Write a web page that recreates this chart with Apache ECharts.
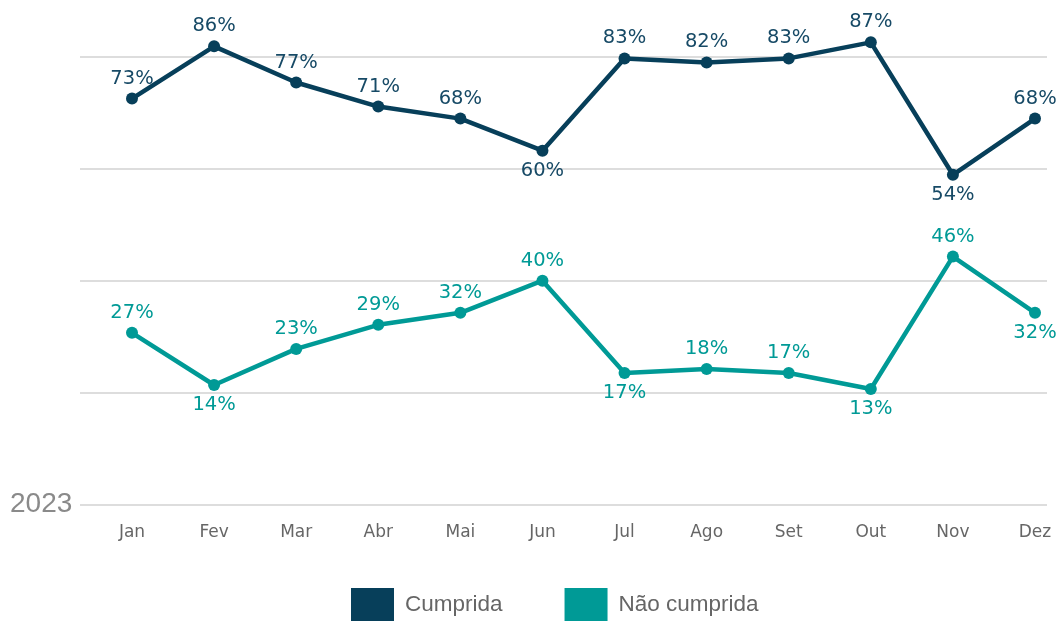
<!DOCTYPE html>
<html>
<head>
<meta charset="utf-8">
<script src="https://cdn.jsdelivr.net/npm/echarts@6/dist/echarts.min.js"></script>
<style>
  html, body { margin: 0; padding: 0; background: #fff; }
  #chart { width: 1061px; height: 621px; }
</style>
</head>
<body>
<div id="chart"></div>
<script>
// dados
var months = ['Jan', 'Fev', 'Mar', 'Abr', 'Mai', 'Jun', 'Jul', 'Ago', 'Set', 'Out', 'Nov', 'Dez'];
var cumprida = [73, 86, 77, 71, 68, 60, 83, 82, 83, 87, 54, 68];
var naoCumprida = [27, 14, 23, 29, 32, 40, 17, 18, 17, 13, 46, 32];
var yearLabel = '2023';
// rótulos que ficam por baixo do ponto
var cumpridaBelow = ['Jun', 'Nov'];
var naoCumpridaBelow = ['Fev', 'Jul', 'Out', 'Dez'];

var navy = '#073f5a';
var teal = '#009a96';

function withLabels(values, below) {
  return values.map(function (v, i) {
    return {
      value: v,
      label: { position: below.indexOf(months[i]) >= 0 ? 'bottom' : 'top' }
    };
  });
}

var chart = echarts.init(document.getElementById('chart'));
var option = {
  animation: false,
  title: {
    text: yearLabel,
    left: 10,
    top: 490,
    padding: 0,
    textStyle: { fontFamily: 'Liberation Sans', fontSize: 28, fontWeight: 'normal', color: '#8a8a8a' }
  },
  legend: {
    left: 351,
    top: 588,
    padding: 0,
    itemWidth: 43,
    itemHeight: 33,
    itemGap: 62,
    icon: 'rect',
    textStyle: { fontFamily: 'Liberation Sans', fontSize: 22.5, color: '#666', padding: [0, 0, 0, 6] },
    data: ['Cumprida', 'Não cumprida']
  },
  grid: [
    // grelha das linhas de fundo
    { left: 80, right: 14, top: 57, bottom: 116 },
    // grelha dos dados
    { left: 132, right: 26, top: 57, bottom: 116 }
  ],
  xAxis: [
    { gridIndex: 0, type: 'value', show: false },
    {
      gridIndex: 1,
      type: 'category',
      data: months,
      boundaryGap: false,
      axisLine: { show: false },
      axisTick: { show: false },
      axisLabel: { margin: 19, fontFamily: 'DejaVu Sans', fontSize: 17, color: '#666' }
    }
  ],
  yAxis: [
    {
      gridIndex: 0,
      type: 'value',
      min: 0, max: 4, interval: 1,
      axisLine: { show: false },
      axisTick: { show: false },
      axisLabel: { show: false },
      splitLine: { show: true, lineStyle: { color: '#dddddd', width: 2 } }
    },
    // cada série tem a sua própria escala (como no original)
    { gridIndex: 1, type: 'value', min: -28.28, max: 83.35, show: false, splitLine: { show: false } },
    { gridIndex: 1, type: 'value', min: -15.9, max: 95.74, show: false, splitLine: { show: false } }
  ],
  series: [
    {
      name: 'Cumprida',
      type: 'line',
      xAxisIndex: 1,
      yAxisIndex: 1,
      clip: false,
      symbol: 'circle',
      symbolSize: 12,
      lineStyle: { color: navy, width: 4.5 },
      itemStyle: { color: navy },
      label: { show: true, formatter: '{c}%', distance: 4, fontFamily: 'DejaVu Sans', fontSize: 19.5, color: '#174a66' },
      data: withLabels(cumprida, cumpridaBelow)
    },
    {
      name: 'Não cumprida',
      type: 'line',
      xAxisIndex: 1,
      yAxisIndex: 2,
      clip: false,
      symbol: 'circle',
      symbolSize: 12,
      lineStyle: { color: teal, width: 4.5 },
      itemStyle: { color: teal },
      label: { show: true, formatter: '{c}%', distance: 4, fontFamily: 'DejaVu Sans', fontSize: 19.5, color: teal },
      data: withLabels(naoCumprida, naoCumpridaBelow)
    }
  ]
};
chart.setOption(option);
</script>
</body>
</html>
